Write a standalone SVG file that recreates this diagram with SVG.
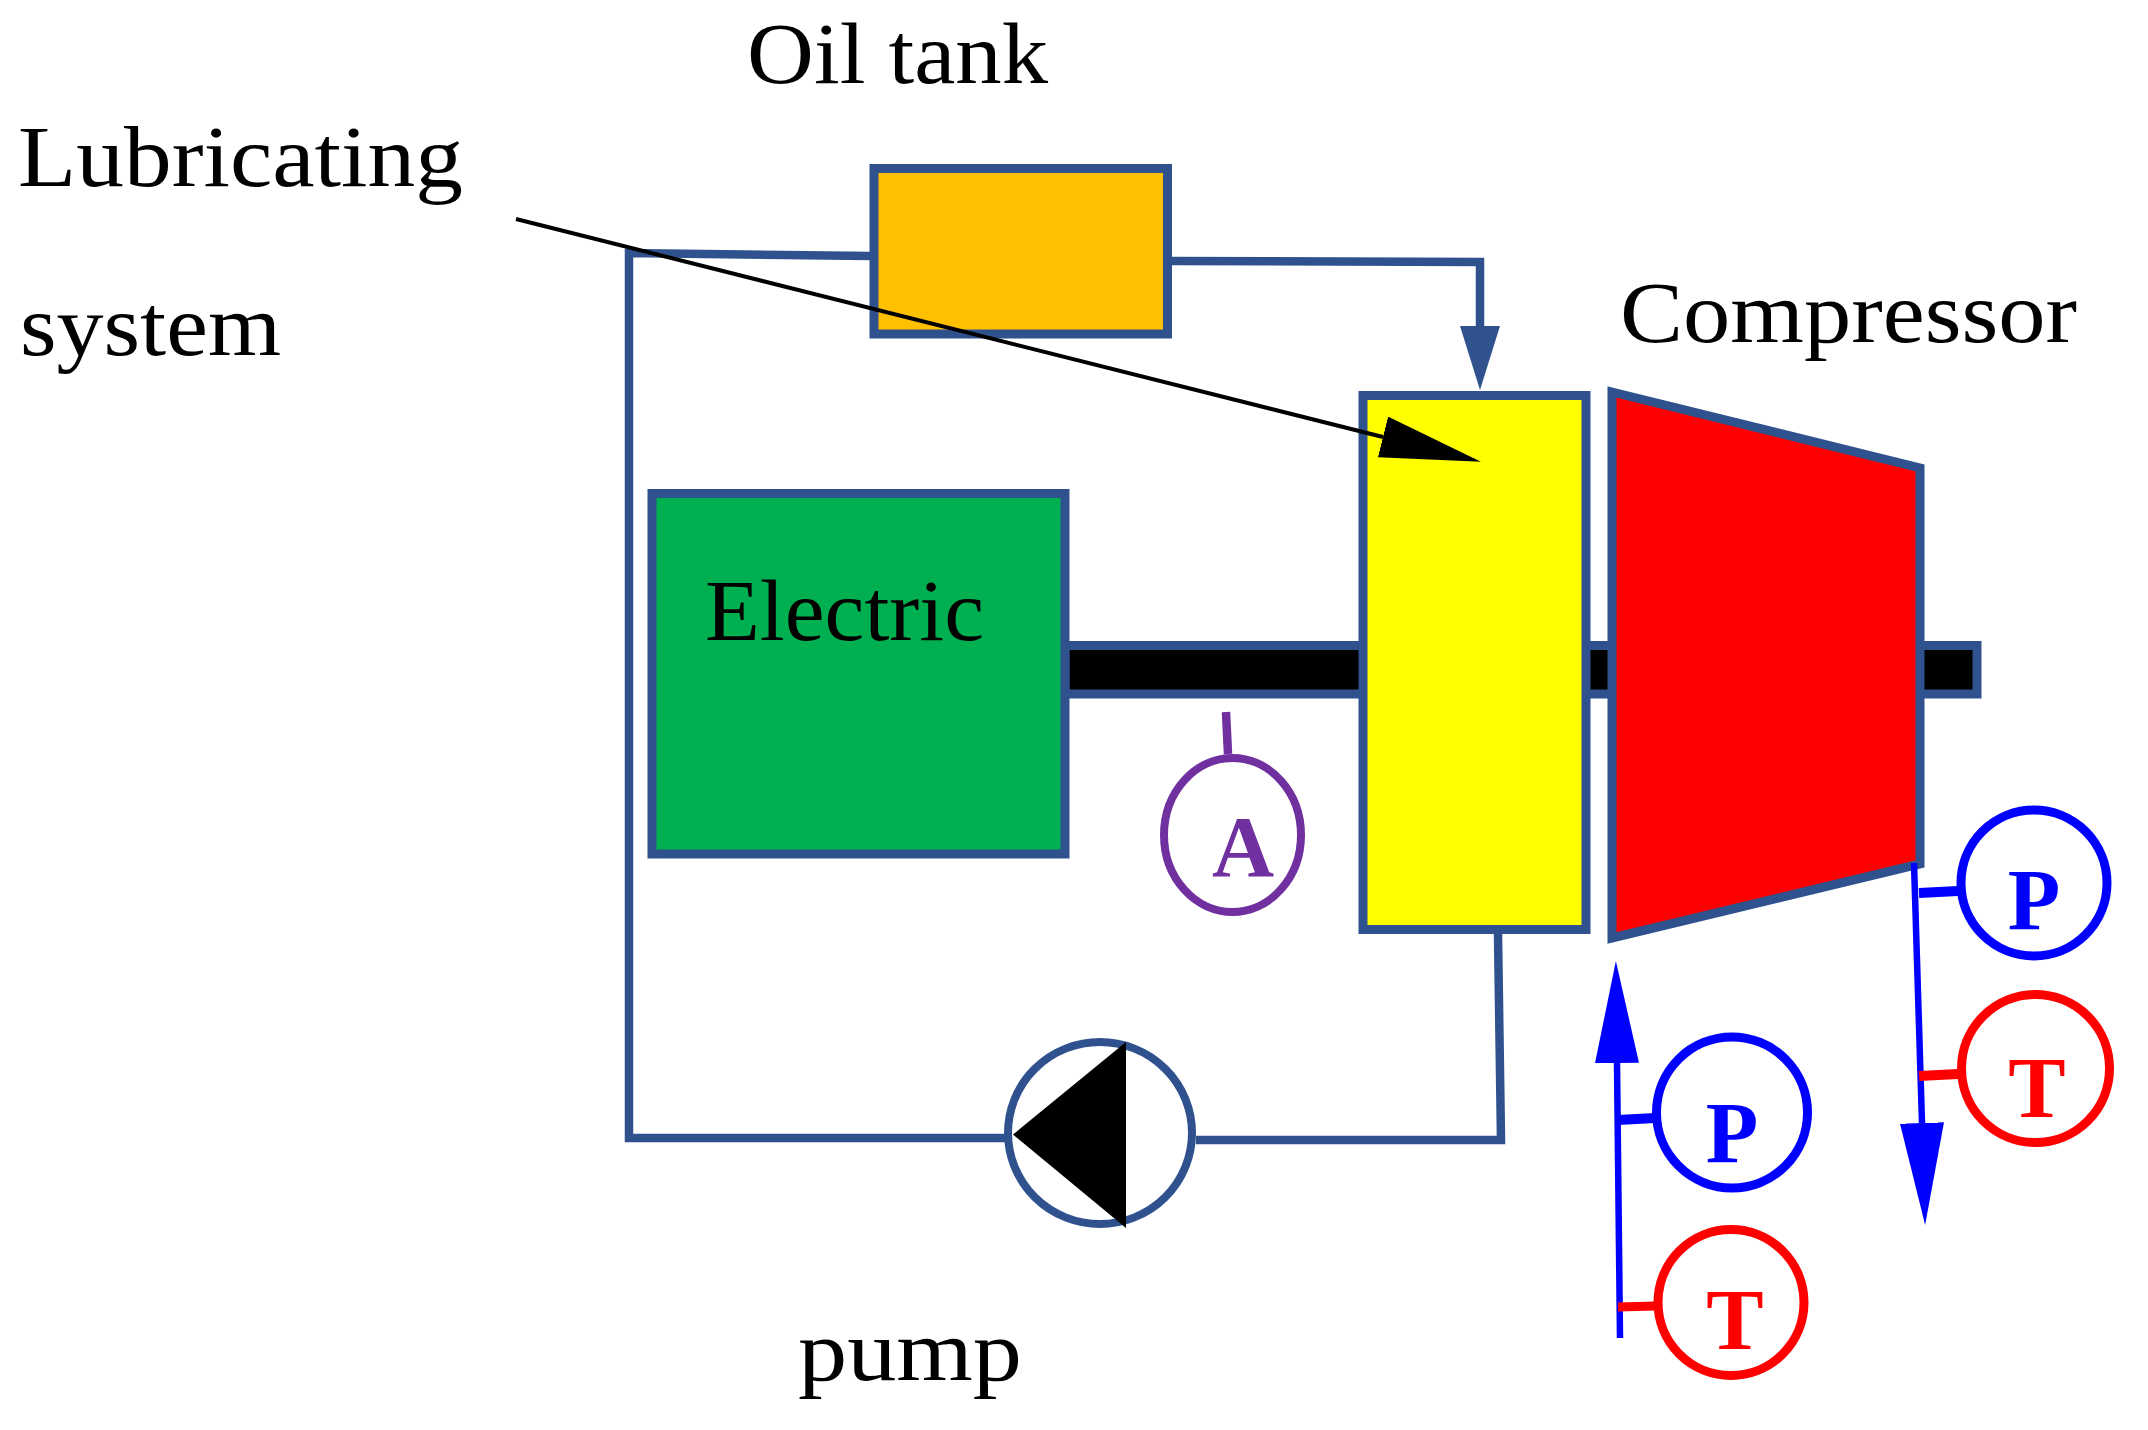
<svg xmlns="http://www.w3.org/2000/svg" width="2148" height="1430" viewBox="0 0 2148 1430">
<style>
.box{stroke:#2F528F;stroke-width:9}
.pipe{fill:none;stroke:#2F528F;stroke-width:8.5}
.lbl{font-family:"Liberation Serif","Times New Roman",serif;font-size:86px;fill:#000}
.sym{font-family:"Liberation Serif","Times New Roman",serif;font-size:86px;font-weight:bold;text-anchor:middle}
.blue{fill:#0000FF}.red{fill:#FF0000}
.ring{fill:#fff;stroke-width:9}
.rb{stroke:#0000FF}.rr{stroke:#FF0000}
</style>
<defs>
<marker id="hb" markerUnits="userSpaceOnUse" markerWidth="104" markerHeight="46" refX="0" refY="22" orient="auto"><path d="M0,0L102,22L0,44z" fill="#0000FF"/></marker>
<marker id="hk" markerUnits="userSpaceOnUse" markerWidth="104" markerHeight="44" refX="0" refY="21" orient="auto"><path d="M0,0L101,21L0,42z" fill="#000"/></marker>
<marker id="hd" markerUnits="userSpaceOnUse" markerWidth="66" markerHeight="42" refX="0" refY="20" orient="auto"><path d="M0,0L64,20L0,40z" fill="#2F528F"/></marker>
</defs>
<rect width="2148" height="1430" fill="#fff"/>
<g id="shaft"><rect class="box" x="1065" y="645.500" width="912" height="48.500" fill="#000"/></g>
<g id="oil-tank"><rect class="box" x="874" y="168.500" width="293.500" height="165.500" fill="#FFC000"/><text class="lbl" x="747" y="83" textLength="301" lengthAdjust="spacingAndGlyphs">Oil tank</text></g>
<g id="lubricating-system"><rect class="box" x="1363" y="395.500" width="223" height="534" fill="#FFFF00"/><text class="lbl" x="18" y="186" textLength="445" lengthAdjust="spacingAndGlyphs">Lubricating</text><text class="lbl" x="20" y="355" textLength="261" lengthAdjust="spacingAndGlyphs">system</text></g>
<g id="electric"><rect class="box" x="652" y="493.500" width="413" height="360.500" fill="#00B050"/><text class="lbl" x="705" y="640" textLength="279" lengthAdjust="spacingAndGlyphs">Electric</text></g>
<g id="compressor"><polygon class="box" points="1612,392 1920,468 1920,864 1612,938" fill="#FF0000"/><text class="lbl" x="1620" y="342" textLength="457" lengthAdjust="spacingAndGlyphs">Compressor</text></g>
<g id="ammeter"><ellipse cx="1232.500" cy="835" rx="68.500" ry="77" fill="#fff" stroke="#7030A0" stroke-width="8"/><text class="sym" x="1243" y="876" fill="#7030A0" font-size="80">A</text></g>
<g id="pump"><ellipse cx="1100" cy="1133" rx="92" ry="91" fill="#fff" stroke="#2F528F" stroke-width="8"/><polygon points="1013,1134.500 1126,1042 1126,1228" fill="#000"/><text class="lbl" x="798" y="1380" textLength="224" lengthAdjust="spacingAndGlyphs">pump</text></g>
<g id="p-inlet"><circle class="ring rb" cx="1732" cy="1112.500" r="75.500"/><text class="sym blue" x="1732" y="1162">P</text></g>
<g id="t-inlet"><circle class="ring rr" cx="1731" cy="1302.500" r="73"/><text class="sym red" x="1735" y="1349">T</text></g>
<g id="p-outlet"><circle class="ring rb" cx="2034" cy="883" r="73"/><text class="sym blue" x="2034" y="929">P</text></g>
<g id="t-outlet"><circle class="ring rr" cx="2035.500" cy="1068.500" r="74"/><text class="sym red" x="2037" y="1117">T</text></g>
<g id="connectors">
<path class="pipe" d="M870,256 L629,253 L629,1138 L1005,1138"/>
<path class="pipe" d="M1196,1140 L1501,1140 L1498,934"/>
<path class="pipe" d="M1171,261 L1480,262 L1480,326" marker-end="url(#hd)"/>
<line x1="516" y1="219" x2="1383" y2="437" stroke="#000" stroke-width="4" marker-end="url(#hk)"/>
<line x1="1226" y1="712" x2="1228" y2="754" stroke="#7030A0" stroke-width="8.500"/>
<line x1="1620" y1="1338" x2="1617" y2="1063" stroke="#0000FF" stroke-width="6.500" marker-end="url(#hb)"/>
<line x1="1914" y1="863" x2="1922" y2="1123" stroke="#0000FF" stroke-width="6.500" marker-end="url(#hb)"/>
<line x1="1618" y1="1120" x2="1655" y2="1118" stroke="#0000FF" stroke-width="10"/>
<line x1="1618" y1="1307" x2="1655" y2="1306" stroke="#FF0000" stroke-width="9"/>
<line x1="1919" y1="893" x2="1958" y2="891" stroke="#0000FF" stroke-width="10"/>
<line x1="1919" y1="1076" x2="1958" y2="1074" stroke="#FF0000" stroke-width="10"/>
</g>
</svg>
